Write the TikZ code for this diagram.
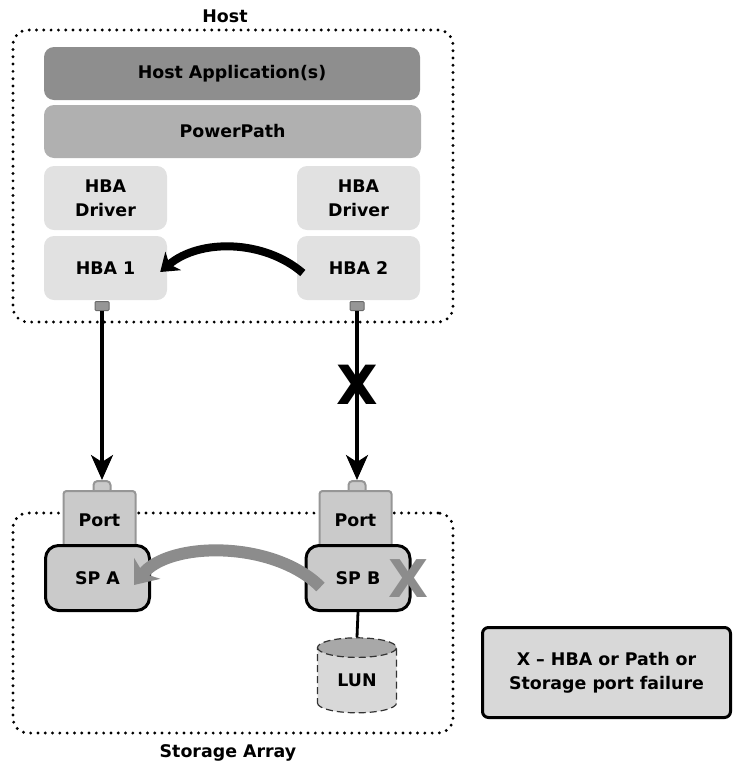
\documentclass[tikz,border=0pt]{standalone}
\usepackage{fontspec}
\setmainfont{DejaVu Sans}
\usetikzlibrary{arrows.meta,calc,shapes.geometric}
\definecolor{appfill}{RGB}{142,142,142}
\definecolor{pathfill}{RGB}{176,176,176}
\definecolor{hbafill}{RGB}{225,225,225}
\definecolor{portfill}{RGB}{202,202,202}
\definecolor{portline}{RGB}{150,150,150}
\definecolor{plugfill}{RGB}{150,150,150}
\definecolor{plugline}{RGB}{105,105,105}
\definecolor{failgray}{RGB}{140,140,140}
\definecolor{lunbody}{RGB}{216,216,216}
\definecolor{luntop}{RGB}{168,168,168}
\definecolor{legendfill}{RGB}{216,216,216}

\begin{document}
\begin{tikzpicture}[
  x=1pt, y=-1pt,
  font=\fontsize{17.4}{24}\selectfont\bfseries,
  dotframe/.style={
    draw=black,
    line width=3.2pt,
    line cap=round,
    dash pattern=on 0pt off 7.3pt,
    rounded corners=15pt,
    inner sep=0pt
  },
  layer/.style={
    rounded corners=10pt,
    minimum width=376pt,
    minimum height=53pt,
    inner sep=0pt
  },
  hbabox/.style={
    rounded corners=10pt,
    fill=hbafill,
    minimum width=123pt,
    minimum height=64pt,
    inner sep=0pt,
    align=center
  },
  plug/.style={
    draw=plugline,
    fill=plugfill,
    line width=1pt,
    rounded corners=1pt,
    minimum width=14pt,
    minimum height=9pt,
    inner sep=0pt
  },
  tab/.style={
    draw=portline,
    fill=portfill,
    line width=2pt,
    rounded corners=4pt,
    minimum width=17pt,
    minimum height=13pt,
    inner sep=0pt
  },
  portbox/.style={
    draw=portline,
    fill=portfill,
    line width=2pt,
    rounded corners=3pt,
    minimum width=72pt,
    minimum height=58pt,
    inner sep=0pt
  },
  spbox/.style={
    draw=black,
    fill=portfill,
    line width=3pt,
    rounded corners=13pt,
    minimum width=104pt,
    minimum height=65pt,
    inner sep=0pt
  },
  failx/.style={
    font=\fontsize{54}{54}\selectfont\bfseries,
    inner sep=0pt
  },
  link/.style={
    draw=black,
    line width=3.2pt,
    -{Stealth[length=25pt,width=22pt,inset=7pt]}
  },
  hostfail/.style={
    draw=black,
    line width=8pt,
    -{Stealth[length=17pt,width=24pt,inset=5pt]}
  },
  spfail/.style={
    draw=failgray,
    line width=12pt,
    -{Stealth[length=21pt,width=33pt,inset=6pt]}
  }
]
\useasboundingbox (0,0) rectangle (734,761);

% Frames
\node[dotframe, minimum width=440pt, minimum height=292pt] (host) at (233,176) {};
\node[anchor=base] (hostlabel) at (225,22) {Host};
\node[dotframe, minimum width=440pt, minimum height=220pt] (array) at (233,623) {};
\node[anchor=base] (arraylabel) at (228,757) {Storage Array};

% Host stack
\node[layer, fill=appfill] (app) at (232,73.5) {Host Application(s)};
\node[layer, fill=pathfill, minimum width=377pt] (powerpath) at (232.5,131.5) {PowerPath};
\node[hbabox] (driver1) at (105.5,198) {HBA\\Driver};
\node[hbabox] (driver2) at (358.5,198) {HBA\\Driver};
\node[hbabox] (hba1) at (105.5,268) {HBA 1};
\node[hbabox] (hba2) at (358.5,268) {HBA 2};
\node[plug] (plug1) at (102,306) {};
\node[plug] (plug2) at (357,306) {};

% Storage side
\node[tab] (tab1) at (102,487.5) {};
\node[tab] (tab2) at (357,487.5) {};
\node[portbox] (port1) at (99.5,520) {Port};
\node[portbox] (port2) at (355.5,520) {Port};
\node[spbox] (spa) at (97.5,578) {SP A};
\node[spbox] (spb) at (358,578) {SP B};
\node[cylinder, shape border rotate=90, aspect=0.5,
  draw=black!80, line width=1.2pt, dash pattern=on 7pt off 4pt,
  cylinder uses custom fill, cylinder body fill=lunbody,
  cylinder end fill=luntop,
  minimum width=79pt, minimum height=75pt, inner sep=0pt] (lun) at (357,680.5)
  {\raisebox{-10pt}{LUN}};

% Paths
\draw[link] (plug1.south) -- (tab1.north);
\draw[link] (plug2.south) -- (tab2.north);
\node[failx] (pathx) at (357,385) {X};
\draw[line width=2.8pt] (spb.south) -- (lun.north);

% Failover
\draw[hostfail] ($(hba2.west)+(6,5)$) .. controls +(-38,-33) and +(40,-34) ..
  ($(hba1.east)+(-7,4)$);
\draw[spfail] ($(spb.west)+(16,9)$) .. controls +(-47,-47) and +(35,-44) ..
  ($(spa.east)+(-17,7)$);
\node[failx, text=failgray, font=\fontsize{52}{52}\selectfont\bfseries] (spx) at (409,579) {X};

% Legend
\node[draw=black, line width=3pt, fill=legendfill, rounded corners=6pt,
  minimum width=248pt, minimum height=90pt, align=center] (legend) at (606.5,672.5)
  {X – HBA or Path or\\Storage port failure};

\end{tikzpicture}
\end{document}
